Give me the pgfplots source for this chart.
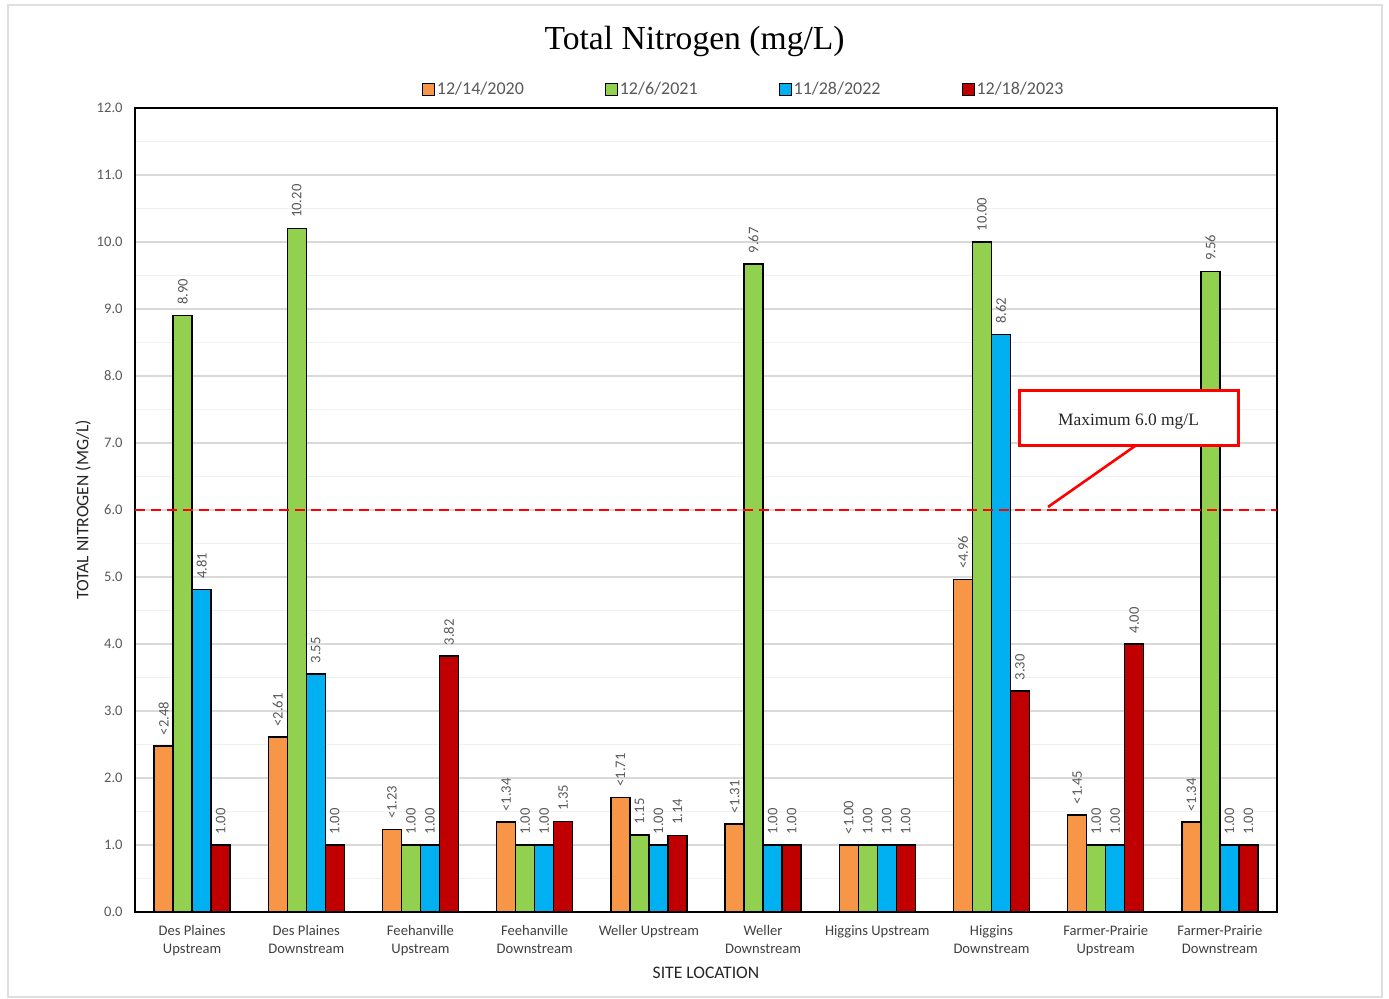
\documentclass[border=0pt]{standalone}
\usepackage{pgfplots}
\pgfplotsset{compat=1.18}
\usepackage{fontspec}
\setmainfont{Carlito}
\newfontfamily\seriffont{Liberation Serif}
\definecolor{cOr}{HTML}{F79646}
\definecolor{cGr}{HTML}{92D050}
\definecolor{cBl}{HTML}{00B0F0}
\definecolor{cRd}{HTML}{C00000}
\definecolor{txt}{HTML}{595959}
\definecolor{txtd}{HTML}{404040}
\begin{document}
\begin{tikzpicture}
\path (0pt,0pt) rectangle (694.5pt,499.5pt);
\draw[gray!25, line width=0.6pt] (4pt,1pt) rectangle (691pt,497pt);
\begin{axis}[
  at={(67.5pt,43.5pt)}, anchor=south west,
  scale only axis, width=571pt, height=402pt,
  ybar=0pt, bar width=9.5pt,
  xmin=-0.5, xmax=9.5, ymin=0, ymax=12,
  xtick={0,...,9},
  xticklabels={{Des Plaines\\Upstream},{Des Plaines\\Downstream},{Feehanville\\Upstream},{Feehanville\\Downstream},{Weller Upstream},{Weller\\Downstream},{Higgins Upstream},{Higgins\\Downstream},{Farmer-Prairie\\Upstream},{Farmer-Prairie\\Downstream}},
  xticklabel style={align=center, font=\fontsize{7.3}{9}\selectfont, text=txtd, inner sep=0pt, yshift=-6.5pt},
  ytick={0,1,...,12}, minor ytick={0.5,1.5,...,11.5},
  ymajorgrids, yminorgrids,
  major grid style={draw=black!15, line width=0.6pt},
  minor grid style={draw=black!6, line width=0.6pt},
  major tick length=0pt, minor tick length=0pt,
  yticklabel={\pgfmathprintnumber[fixed,fixed zerofill,precision=1]{\tick}},
  yticklabel style={font=\fontsize{7.3}{9}\selectfont, text=txt, inner sep=0pt, xshift=-6pt},
  /pgf/number format/assume math mode=true,
  axis line style={line width=0.8pt, black},
  clip=false,
  title={\seriffont\fontsize{16.8}{20}\selectfont Total Nitrogen (mg/L)},
  title style={at={(axis description cs:0.49,1.068)}, anchor=center, yshift=0pt, text=black},
  xlabel={SITE LOCATION},
  xlabel style={at={(axis description cs:0.5,-0.0758)}, anchor=center, font=\fontsize{8.8}{10}\selectfont, text=black!85},
  ylabel={TOTAL NITROGEN (MG/L)},
  ylabel style={at={(axis description cs:-0.0455,0.5)}, anchor=center, font=\fontsize{8.8}{10}\selectfont, text=black!85},
  legend style={draw=none, at={(axis description cs:0.533,1.0225)}, anchor=center, font=\fontsize{9}{10}\selectfont, text=txt,
    /tikz/every even column/.append style={column sep=39.5pt}, inner sep=0pt,
    nodes={inner xsep=1pt}},
  legend columns=4,
  legend image code/.code={\draw[#1, draw=black, line width=0.5pt] (0pt,-3pt) rectangle (6pt,3pt);},
  legend cell align=left,
  nodes near coords={\pgfmathprintnumber[fixed,fixed zerofill,precision=2]{\pgfplotspointmeta}},
  every node near coord/.append style={rotate=90, anchor=west, font=\fontsize{7.3}{9}\selectfont, text=txt, inner xsep=5pt, inner ysep=0pt},
  every axis plot/.append style={draw=black, line width=0.75pt},
]
\addplot[fill=cOr, nodes near coords={<\pgfmathprintnumber[fixed,fixed zerofill,precision=2]{\pgfplotspointmeta}}] coordinates {(0,2.48) (1,2.61) (2,1.23) (3,1.34) (4,1.71) (5,1.31) (6,1.00) (7,4.96) (8,1.45) (9,1.34)};
\addplot[fill=cGr] coordinates {(0,8.90) (1,10.20) (2,1.00) (3,1.00) (4,1.15) (5,9.67) (6,1.00) (7,10.00) (8,1.00) (9,9.56)};
\addplot[fill=cBl] coordinates {(0,4.81) (1,3.55) (2,1.00) (3,1.00) (4,1.00) (5,1.00) (6,1.00) (7,8.62) (8,1.00) (9,1.00)};
\addplot[fill=cRd] coordinates {(0,1.00) (1,1.00) (2,3.82) (3,1.35) (4,1.14) (5,1.00) (6,1.00) (7,3.30) (8,4.00) (9,1.00)};
\legend{12/14/2020,12/6/2021,11/28/2022,12/18/2023}
\draw[red, line width=1pt, dash pattern=on 5pt off 3pt] (axis cs:-0.5,6) -- (axis cs:9.5,6);
\draw[red, line width=1.3pt] (axis cs:8.257,6.955) -- (axis cs:7.495,6.045);
\node[draw=red, line width=1.5pt, fill=white, minimum width=109.5pt, minimum height=27.5pt, inner sep=0pt] at (axis cs:8.20,7.366) {};
\node[inner sep=0pt, font=\seriffont\fontsize{8.7}{10}\selectfont, text=black!85, yshift=-1.5pt] at (axis cs:8.20,7.366) {Maximum 6.0 mg/L};
\end{axis}
\end{tikzpicture}
\end{document}
